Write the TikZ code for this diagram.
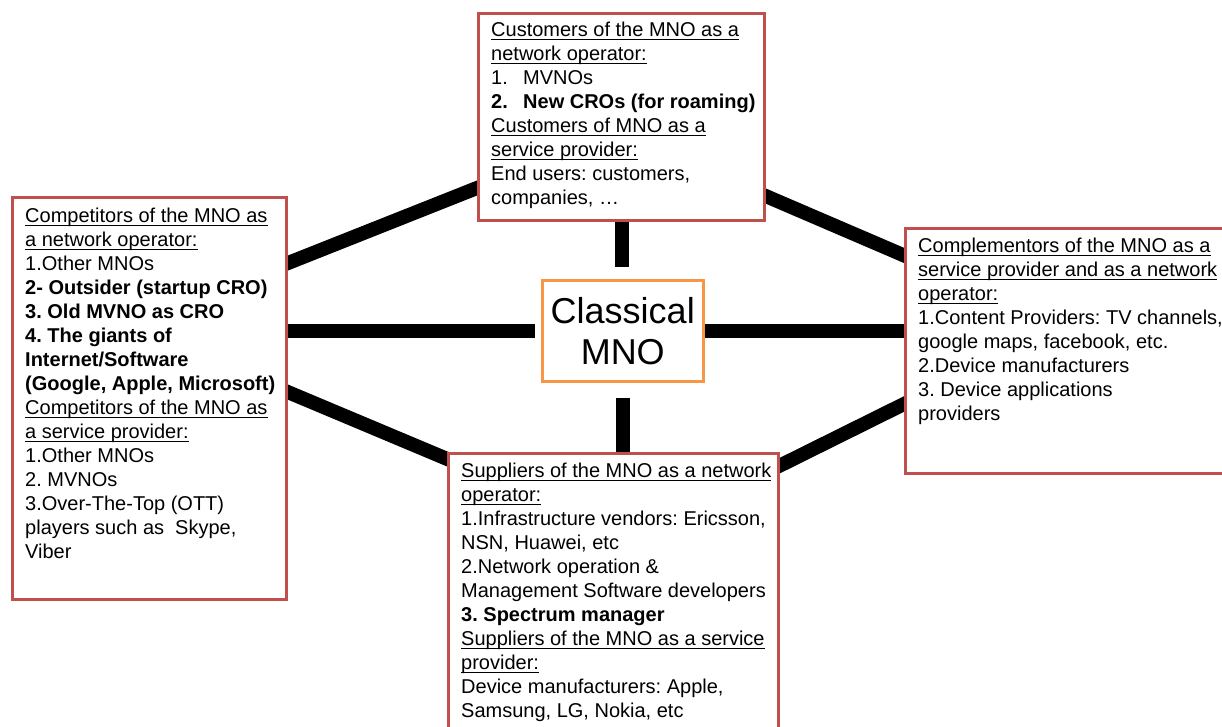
\documentclass[tikz,border=0pt]{standalone}
\usepackage{fontspec}
\setmainfont{Liberation Sans}
\usetikzlibrary{calc}
\pgfdeclarelayer{back}
\pgfdeclarelayer{background}
\pgfsetlayers{back,background,main}
\definecolor{boxred}{HTML}{C0504D}
\definecolor{boxorange}{HTML}{F79646}
\frenchspacing
\newsavebox{\myulbox}
\newcommand{\myul}[1]{\sbox{\myulbox}{#1}\rlap{\rule[-3.9pt]{\wd\myulbox}{1.3pt}}\usebox{\myulbox}}
\newcommand{\lbl}[1]{\makebox[32pt][l]{#1}}
\begin{document}
\begin{tikzpicture}[x=1pt,y=-1pt,
  box/.style={draw=boxred,line width=3pt,fill=white,inner sep=0pt,anchor=north west},
  hub/.style={draw=boxorange,line width=2.5pt,fill=white,inner sep=0pt,anchor=north west,
    align=center,font=\fontsize{36}{41}\selectfont},
  txt/.style={anchor=north west,inner sep=0pt,align=left,font=\fontsize{20}{24}\selectfont\frenchspacing},
  link/.style={line width=14pt,black}]
\begin{pgfonlayer}{back}
\fill[white] (0,0) rectangle (1222,726);
\end{pgfonlayer}
\useasboundingbox (0,0) rectangle (1222,726);
\clip (0,0) rectangle (1222,726);

% boxes
\node[box,minimum width=286pt,minimum height=207pt] (top) at (477,12) {};
\node[box,minimum width=274pt,minimum height=402pt] (left) at (11,196) {};
\node[box,minimum width=330pt,minimum height=320pt] (bottom) at (447,452) {};
\node[box,minimum width=340pt,minimum height=245pt] (right) at (904,227) {};
\node[hub,minimum width=161pt,minimum height=101pt] (center) at (541,279) {Classical\\MNO};

% texts
\node[txt] (toptext) at (491,19.5) {\strut\myul{Customers of the MNO as a}\\
\myul{network operator:}\\
\lbl{1.}MVNOs\\
\textbf{\lbl{2.}New CROs (for roaming)}\\
\myul{Customers of MNO as a}\\
\myul{service provider:}\\
End users: customers,\\
companies, …};

\node[txt] (lefttext) at (25,205) {\strut\myul{Competitors of the MNO as}\\
\myul{a network operator:}\\
1.Other MNOs\\
\textbf{2- Outsider (startup CRO)}\\
\textbf{3. Old MVNO as CRO}\\
\textbf{4. The giants of}\\
\textbf{Internet/Software}\\
\textbf{(Google, Apple, Microsoft)}\\
\myul{Competitors of the MNO as}\\
\myul{a service provider:}\\
1.Other MNOs\\
2. MVNOs\\
3.Over-The-Top (OTT)\\
players such as\ \ Skype,\\
Viber};

\node[txt] (bottomtext) at (461,460) {\strut\myul{Suppliers of the MNO as a network}\\
\myul{operator:}\\
1.Infrastructure vendors: Ericsson,\\
NSN, Huawei, etc\\
2.Network operation \&\\
Management Software developers\\
\textbf{3. Spectrum manager}\\
\myul{Suppliers of the MNO as a service}\\
\myul{provider:}\\
Device manufacturers: Apple,\\
Samsung, LG, Nokia, etc};

\node[txt] (righttext) at (918,235) {\strut\myul{Complementors of the MNO as a}\\
\myul{service provider and as a network}\\
\myul{operator:}\\
1.Content Providers: TV channels,\\
google maps, facebook, etc.\\
2.Device manufacturers\\
3. Device applications\\
providers};

% connectors
\begin{pgfonlayer}{background}
\draw[link,shorten >=12pt] (top.south) -- (top.south |- center.north);
\draw[link,shorten <=15pt] (center.south) -- (center.south |- bottom.north);
\draw[link,shorten >=6pt] (left.east |- center.west) -- (center.west);
\draw[link] (center.east) -- (center.east -| right.west);
\draw[link] ($(left.north east)+(-5,69)$) -- ($(top.north west)+(5,174)$);
\draw[link] ($(top.north east)+(-5,182)$) -- ($(right.north west)+(6,31)$);
\draw[link] ($(left.north east)+(-5,194)$) -- ($(bottom.north west)+(5,9)$);
\draw[link] ($(bottom.north east)+(-5,16)$) -- ($(right.north west)+(6,174)$);
\end{pgfonlayer}
\end{tikzpicture}
\end{document}
